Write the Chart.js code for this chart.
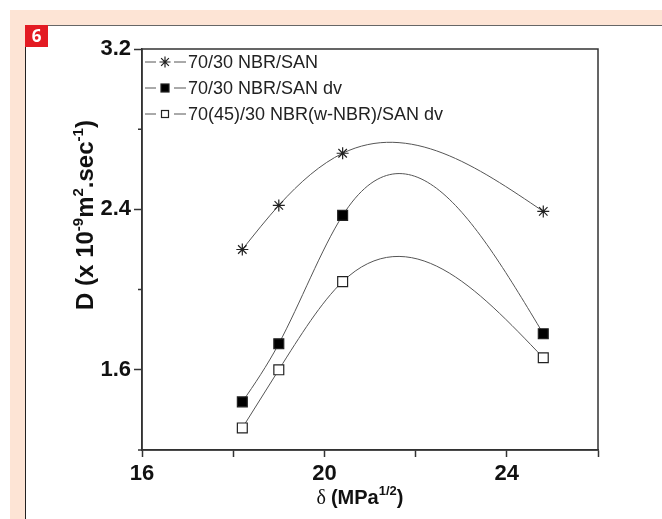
<!DOCTYPE html>
<html>
<head>
<meta charset="utf-8">
<script src="https://cdn.jsdelivr.net/npm/chart.js@4.4.1/dist/chart.umd.min.js"></script>
<style>
html, body { margin: 0; padding: 0; background: #fff; }
body { width: 662px; height: 519px; position: relative; overflow: hidden; }
#peach { position: absolute; left: 10px; top: 10px; right: 0; bottom: 0; background: #fde4d5; }
#panel { position: absolute; left: 25px; top: 25px; right: 0; bottom: 0; background: #fff;
         border-left: 1.5px solid #222; border-top: 1px solid #666; }
#num { position: absolute; left: 25px; top: 25px; width: 23px; height: 22px; z-index: 3;
       background: #e31b23; color: #fff; font: bold 17px 'Open Sans', sans-serif;
       text-align: center; line-height: 22px; }
#wrap { position: absolute; left: 25px; top: 25px; width: 637px; height: 494px; z-index: 2; }
</style>
</head>
<body>
<div id="peach"></div>
<div id="panel"></div>
<div id="num">6</div>
<div id="wrap"><canvas id="grafico" width="637" height="494"></canvas></div>
<script>
// valores
const delta = [18.2, 19.0, 20.4, 24.8];             // MPa^1/2
const nbrSan = [2.20, 2.42, 2.68, 2.39];            // 70/30 NBR/SAN
const nbrSanDv = [1.44, 1.73, 2.37, 1.78];          // 70/30 NBR/SAN dv
const wNbrSanDv = [1.31, 1.60, 2.04, 1.66];         // 70(45)/30 NBR(w-NBR)/SAN dv
const nomes = ['70/30 NBR/SAN', '70/30 NBR/SAN dv', '70(45)/30 NBR(w-NBR)/SAN dv'];
const xRotulos = [16, 20, 24];
const yRotulos = [1.6, 2.4, 3.2];

const corTraco = '#555';

function pares(ys) {
    return delta.map((x, i) => ({ x: x, y: ys[i] }));
}
function ehRotuloY(v) {
    return yRotulos.some(t => Math.abs(t - v) < 1e-6);
}

// curva spline natural (como no Origin) passando pelos pontos
const splineNatural = {
    id: 'splineNatural',
    beforeDatasetsDraw(chart) {
        chart.data.datasets.forEach((ds, i) => {
            const meta = chart.getDatasetMeta(i);
            const linha = meta.dataset;
            const pts = meta.data;
            if (!linha || pts.length < 3) return;
            linha.updateControlPoints(chart.chartArea, 'x');
            const n = pts.length;
            const X = pts.map(p => p.x), Y = pts.map(p => p.y);
            const h = [], d = [];
            for (let k = 0; k < n - 1; k++) {
                h[k] = X[k + 1] - X[k];
                d[k] = (Y[k + 1] - Y[k]) / h[k];
            }
            const M = new Array(n).fill(0);
            const a = [], b = [], c = [], r = [];
            for (let k = 1; k < n - 1; k++) {
                a[k] = h[k - 1]; b[k] = 2 * (h[k - 1] + h[k]); c[k] = h[k];
                r[k] = 6 * (d[k] - d[k - 1]);
            }
            for (let k = 2; k < n - 1; k++) {
                const w = a[k] / b[k - 1];
                b[k] -= w * c[k - 1];
                r[k] -= w * r[k - 1];
            }
            for (let k = n - 2; k >= 1; k--) {
                M[k] = (r[k] - (k < n - 2 ? c[k] * M[k + 1] : 0)) / b[k];
            }
            for (let k = 0; k < n - 1; k++) {
                const s0 = d[k] - h[k] * (2 * M[k] + M[k + 1]) / 6;
                const s1 = d[k] + h[k] * (M[k] + 2 * M[k + 1]) / 6;
                pts[k].cp2x = X[k] + h[k] / 3;
                pts[k].cp2y = Y[k] + s0 * h[k] / 3;
                pts[k + 1].cp1x = X[k + 1] - h[k] / 3;
                pts[k + 1].cp1y = Y[k + 1] - s1 * h[k] / 3;
            }
            linha._path = undefined;
        });
    }
};

// texto com sobrescritos
function textoRico(ctx, partes, x, y) {
    let total = 0;
    partes.forEach(p => { ctx.font = p.f; p.w = ctx.measureText(p.t).width; total += p.w; });
    let cx = x - total / 2;
    partes.forEach(p => {
        ctx.font = p.f;
        ctx.fillText(p.t, cx, y + (p.dy || 0));
        cx += p.w;
    });
}

function marcador(ctx, tipo, x, y, r) {
    ctx.save();
    ctx.lineWidth = 1.2;
    ctx.strokeStyle = '#222';
    if (tipo === 'star') {
        ctx.beginPath();
        for (let k = 0; k < 4; k++) {
            const ang = k * Math.PI / 4;
            ctx.moveTo(x - Math.cos(ang) * r, y - Math.sin(ang) * r);
            ctx.lineTo(x + Math.cos(ang) * r, y + Math.sin(ang) * r);
        }
        ctx.stroke();
    } else {
        ctx.fillStyle = tipo === 'cheio' ? '#000' : '#fff';
        ctx.fillRect(x - r, y - r, 2 * r, 2 * r);
        ctx.strokeRect(x - r, y - r, 2 * r, 2 * r);
    }
    ctx.restore();
}

const moldura = {
    id: 'moldura',
    afterDatasetsDraw(chart) {
        const ctx = chart.ctx;
        const a = chart.chartArea;
        ctx.save();
        // caixa
        ctx.strokeStyle = '#333';
        ctx.lineWidth = 1.5;
        ctx.strokeRect(a.left, a.top, a.right - a.left, a.bottom - a.top);
        // ticks menores do eixo y
        const ys = chart.scales.y;
        ctx.beginPath();
        ys.ticks.forEach(t => {
            if (ehRotuloY(t.value)) return;
            const py = ys.getPixelForValue(t.value);
            ctx.moveTo(a.left - 4, py);
            ctx.lineTo(a.left, py);
        });
        ctx.stroke();

        // legenda
        const tipos = ['star', 'cheio', 'vazio'];
        const raios = [5.5, 4, 3.5];
        const linhas = [37, 63, 89];
        ctx.font = "18px 'Liberation Sans', Arial, sans-serif";
        ctx.fillStyle = '#222';
        ctx.textBaseline = 'middle';
        nomes.forEach((nome, i) => {
            const ly = linhas[i];
            const mx = a.left + 23;
            ctx.strokeStyle = corTraco;
            ctx.lineWidth = 1;
            ctx.beginPath();
            ctx.moveTo(a.left + 3, ly);
            ctx.lineTo(mx - 9, ly);
            ctx.moveTo(mx + 9, ly);
            ctx.lineTo(a.left + 44, ly);
            ctx.stroke();
            marcador(ctx, tipos[i], mx, ly, raios[i]);
            ctx.fillText(nome, a.left + 46, ly + 1);
        });

        // titulos dos eixos
        ctx.fillStyle = '#111';
        ctx.textBaseline = 'alphabetic';
        const fb = "bold 24px 'Liberation Sans', Arial, sans-serif";
        const fs = "bold 15px 'Liberation Sans', Arial, sans-serif";
        ctx.save();
        ctx.translate(68, 190);
        ctx.rotate(-Math.PI / 2);
        textoRico(ctx, [
            { t: 'D (x 10', f: fb },
            { t: '-9', f: fs, dy: -10 },
            { t: 'm', f: fb },
            { t: '2', f: fs, dy: -10 },
            { t: '.sec', f: fb },
            { t: '-1', f: fs, dy: -10 },
            { t: ')', f: fb }
        ], 0, 0);
        ctx.restore();

        const fx = "bold 20px 'Liberation Sans', Arial, sans-serif";
        textoRico(ctx, [
            { t: '\u03b4 ', f: "20px 'Liberation Serif', serif" },
            { t: '(MPa', f: fx },
            { t: '1/2', f: "bold 13px 'Liberation Sans', Arial, sans-serif", dy: -9 },
            { t: ')', f: fx }
        ], 335, 479);
        ctx.restore();
    }
};

const estiloLinha = {
    showLine: true,
    borderColor: corTraco,
    borderWidth: 1,
    tension: 0.4,
    pointBorderColor: '#222',
    pointBorderWidth: 1.2,
    pointHoverRadius: 0
};

new Chart(document.getElementById('grafico'), {
    type: 'scatter',
    data: {
        datasets: [
            Object.assign({ label: nomes[0], data: pares(nbrSan), pointStyle: 'star',
                pointRadius: 6, pointBackgroundColor: 'rgba(0,0,0,0)' }, estiloLinha),
            Object.assign({ label: nomes[1], data: pares(nbrSanDv), pointStyle: 'rect',
                pointRadius: 7, pointBackgroundColor: '#000' }, estiloLinha),
            Object.assign({ label: nomes[2], data: pares(wNbrSanDv), pointStyle: 'rect',
                pointRadius: 7, pointBackgroundColor: '#fff' }, estiloLinha)
        ]
    },
    options: {
        responsive: false,
        animation: false,
        layout: { padding: { left: 0, top: 24, right: 64, bottom: 0 } },
        plugins: { legend: { display: false }, tooltip: { enabled: false } },
        scales: {
            x: {
                type: 'linear', min: 16, max: 26,
                afterFit: s => { s.height = 69; },
                border: { display: true, color: '#333', width: 1.5 },
                grid: { drawOnChartArea: false, drawTicks: true, tickLength: 7, tickColor: '#333', tickWidth: 1.5 },
                ticks: {
                    stepSize: 2, padding: 4, color: '#111', maxRotation: 0, autoSkip: false,
                    font: { family: "'Liberation Sans', Arial, sans-serif", size: 22, weight: 'bold' },
                    callback: v => xRotulos.includes(v) ? String(v) : ''
                }
            },
            y: {
                type: 'linear', min: 1.2, max: 3.2,
                afterFit: s => { s.width = 117; },
                border: { display: true, color: '#333', width: 1.5 },
                grid: {
                    drawOnChartArea: false, drawTicks: true, tickLength: 8, tickWidth: 1.5,
                    tickColor: c => ehRotuloY(c.tick.value) ? '#333' : 'rgba(0,0,0,0)'
                },
                ticks: {
                    stepSize: 0.4, padding: 3, color: '#111', autoSkip: false,
                    font: { family: "'Liberation Sans', Arial, sans-serif", size: 22, weight: 'bold' },
                    callback: v => ehRotuloY(v) ? v.toFixed(1) : ''
                }
            }
        }
    },
    plugins: [splineNatural, moldura]
});
</script>
</body>
</html>
